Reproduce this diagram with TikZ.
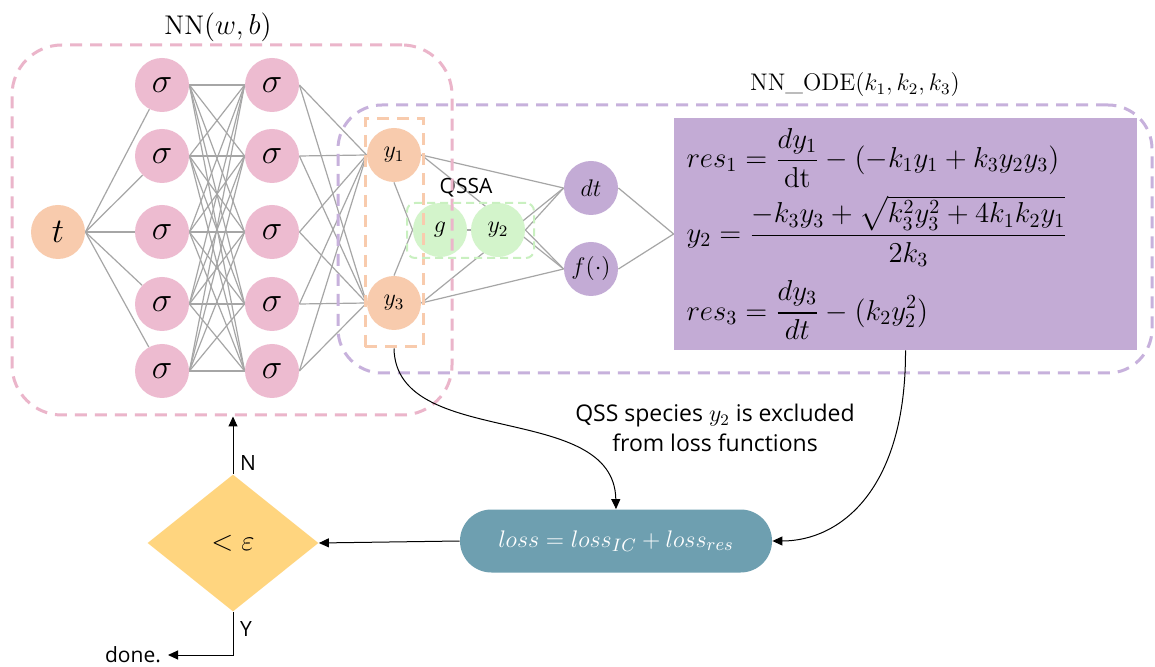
\documentclass[tikz,border=0pt]{standalone}
\usepackage{amsmath}
\usepackage{fontspec}
\newfontfamily\sansf{Open Sans}
\usetikzlibrary{positioning, arrows.meta, shapes.geometric, backgrounds}

\definecolor{pinkfill}{HTML}{EDBBD0}
\definecolor{orangefill}{HTML}{F8CBAD}
\definecolor{greenfill}{HTML}{D3F4CB}
\definecolor{purplefill}{HTML}{C3ABD5}
\definecolor{pinkdash}{HTML}{EBB5CA}
\definecolor{purpledash}{HTML}{C7B1DC}
\definecolor{greendash}{HTML}{C9F0C0}
\definecolor{lossfill}{HTML}{6E9FB0}
\definecolor{chkfill}{HTML}{FFD57F}
\definecolor{wiregray}{HTML}{A6A6A6}

\begin{document}
\begin{tikzpicture}[
    x=0.5pt, y=-0.5pt,
    neuron/.style={circle, minimum size=27pt, inner sep=0pt},
    hid/.style={neuron, fill=pinkfill, font=\LARGE},
    io/.style={neuron, fill=orangefill, font=\large},
    qss/.style={neuron, fill=greenfill, font=\large},
    ode/.style={neuron, fill=purplefill, font=\large},
    link/.style={draw=wiregray, line width=0.6pt},
    dashbox/.style={draw, dash pattern=on 6pt off 4pt, line width=1.5pt, inner sep=0pt},
    arr/.style={-{Triangle[length=5pt, width=4.5pt]}, line width=0.5pt},
    lbl/.style={font=\sansf\fontsize{10.5}{13}\selectfont},
]

\useasboundingbox (0,0) rectangle (1155,667);

% Input
\node[io, font=\LARGE] (t) at (58,232) {$t$};

% Hidden layers
\foreach \i/\yy in {1/85, 2/156, 3/232, 4/304, 5/371} {
    \node[hid] (a\i) at (162,\yy) {$\sigma$};
    \node[hid] (b\i) at (272,\yy) {$\sigma$};
}

% Outputs and QSSA
\node[io] (y1) at (394,155) {$y_1$};
\node[io] (y3) at (394,303) {$y_3$};
\node[qss] (g) at (440,230) {$g$};
\node[qss] (y2) at (498,230) {$y_2$};
\node[lbl] (qssa) at (466,188) {QSSA};

% ODE terms
\node[ode] (dt) at (591,188) {$dt$};
\node[ode] (f) at (591,269) {$f(\cdot)$};

% Residual equations
\node[rectangle, fill=purplefill, minimum width=231.5pt, minimum height=116pt,
      text width=219pt, align=left, font=\Large, inner xsep=6pt] (eq) at (905.5,234)
    {$\begin{aligned}
      & res_1 = \frac{dy_1}{\mathrm{dt}} - (-k_1y_1 + k_3y_2y_3)\\[0pt]
      & y_2 = \frac{-k_3y_3 + \sqrt{k_3^2y_3^2 + 4k_1k_2y_1}}{2k_3}\\[3pt]
      & res_3 = \frac{dy_3}{dt} - (k_2y_2^2)
    \end{aligned}$};

% Dashed groups
\node[dashbox, draw=pinkdash, rounded corners=25pt, minimum width=220pt, minimum height=185pt] (nnbox) at (232,230) {};
\node[dashbox, draw=purpledash, rounded corners=22pt, minimum width=407pt, minimum height=134pt] (odebox) at (745,239) {};
\node[dashbox, draw=orangefill, minimum width=29pt, minimum height=114pt] (ybox) at (394,233) {};
\node[dashbox, draw=greendash, dash pattern=on 4pt off 2.5pt, line width=1pt, rounded corners=4pt,
      minimum width=63.5pt, minimum height=27.5pt] (qbox) at (470.5,230.5) {};

\node at (218,27) {\fontsize{13.5}{16}\selectfont $\mathrm{NN}(w,b)$};
\node at (855,85) {\large $\mathrm{NN\_ODE}(k_1,k_2,k_3)$};

% Loss and check
\node[rectangle, rounded corners=15.7pt, fill=lossfill, text=white, font=\fontsize{13}{15}\selectfont,
      minimum width=156pt, minimum height=31.5pt] (loss) at (616,541) {$loss = loss_{IC} + loss_{res}$};
\node[diamond, fill=chkfill, aspect=1.25, inner sep=0pt, minimum width=85.5pt,
      minimum height=68.5pt, font=\Large] (chk) at (233,543) {$<\varepsilon$};
\node[lbl, anchor=east] (done) at (168,655) {done.};
\node[lbl, font=\sansf\fontsize{11.5}{15}\selectfont, align=center] (note) at (715,428)
    {QSS species $y_2$ is excluded\\from loss functions};

% Connections
\begin{scope}[on background layer]
\fill[white] (0,0) rectangle (1155,667);
\foreach \i in {1,...,5} {
    \draw[link] (t.east) -- (a\i);
    \foreach \j in {1,...,5}
        \draw[link] (a\i.east) -- (b\j.west);
    \draw[link] (b\i.east) -- (y1.west);
    \draw[link] (b\i.east) -- (y3.west);
}
\foreach \s in {y1, y3, y2} {
    \draw[link] (\s.east) -- (dt.west);
    \draw[link] (\s.east) -- (f.west);
}
\draw[link] (y1.south) -- (g.west);
\draw[link] (y3.north) -- (g.west);
\draw[link] (g) -- (y2);
\draw[link] (dt.east) -- (eq.west);
\draw[link] (f.east) -- (eq.west);
\end{scope}

% Arrows
\draw[arr] (ybox.south) .. controls (396,450) and (614,400) .. (loss.north);
\draw[arr] (eq.south) .. controls (906,490) and (840,541) .. (loss.east);
\draw[arr] (loss.west) -- (chk.east);
\draw[arr] (chk.north) -- (chk.north |- nnbox.south) node[lbl, pos=0.2, right] {N};
\draw[arr] (chk.south) |- (done.east) node[lbl, pos=0.2, right] {Y};

\end{tikzpicture}
\end{document}
